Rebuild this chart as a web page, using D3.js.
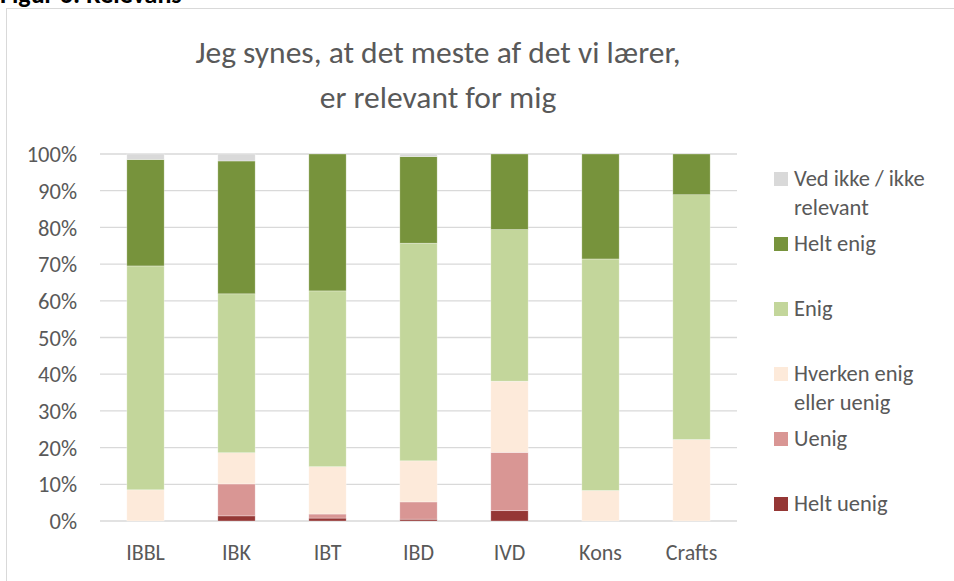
<!DOCTYPE html>
<html>
<head>
<meta charset="utf-8">
<script src="https://cdn.jsdelivr.net/npm/d3@7"></script>
<style>
  body { margin: 0; background: #fff; }
  text { font-family: Carlito, Calibri, Lato, sans-serif; fill: #595959; }
</style>
</head>
<body>
<svg id="chart" width="954" height="581"></svg>
<script>
// categories and series (percent of answers)
const categories = ['IBBL', 'IBK', 'IBT', 'IBD', 'IVD', 'Kons', 'Crafts'];
const seriesNames = ['Helt uenig', 'Uenig', 'Hverken enig eller uenig', 'Enig', 'Helt enig', 'Ved ikke / ikke relevant'];
const heltUenig = [0, 1.4, 0.8, 0.5, 2.8, 0, 0];
const uenig     = [0, 8.7, 1.1, 4.7, 15.9, 0, 0];
const hverken   = [8.5, 8.5, 12.9, 11.2, 19.4, 8.3, 22.2];
const enig      = [61, 43.3, 47.9, 59.3, 41.3, 63.1, 66.7];
const heltEnig  = [29, 36.2, 37.3, 23.6, 20.6, 28.6, 11.1];
const vedIkke   = [1.5, 1.9, 0, 0.7, 0, 0, 0];
const yTicks = [0, 10, 20, 30, 40, 50, 60, 70, 80, 90, 100];

const colors = ['#953735', '#d99694', '#fdeada', '#c3d69b', '#77933c', '#d9d9d9'];
const seriesValues = [heltUenig, uenig, hverken, enig, heltEnig, vedIkke];

const table = categories.map((c, i) => {
  const row = {cat: c};
  seriesNames.forEach((s, j) => row[s] = seriesValues[j][i]);
  return row;
});

const svg = d3.select('#chart');

// outer chart frame and caption (cut by the top edge, as in the source)
svg.append('text')
  .attr('x', 0).attr('y', 3)
  .style('font-weight', 'bold').style('font-size', '26px').style('fill', '#000')
  .text('Figur 6: Relevans');

svg.append('rect')
  .attr('x', 6.5).attr('y', 8.5)
  .attr('width', 960).attr('height', 600)
  .attr('fill', 'none').attr('stroke', '#d9d9d9');

const plotLeft = 100, plotRight = 737, plotTop = 154, plotBottom = 521;

const x = d3.scaleBand()
  .domain(categories)
  .range([plotLeft, plotRight])
  .paddingInner(0.59)
  .paddingOuter(0.295);

const y = d3.scaleLinear()
  .domain([0, 100])
  .range([plotBottom, plotTop]);

// gridlines
svg.append('g')
  .selectAll('line')
  .data(yTicks)
  .enter()
  .append('line')
  .attr('x1', plotLeft).attr('x2', plotRight)
  .attr('y1', d => y(d)).attr('y2', d => y(d))
  .attr('stroke', '#d9d9d9')
  .attr('stroke-width', 1.3);

// y axis labels
svg.append('g')
  .selectAll('text')
  .data(yTicks)
  .enter()
  .append('text')
  .attr('x', 77)
  .attr('y', d => y(d))
  .attr('dy', '0.36em')
  .attr('text-anchor', 'end')
  .style('font-size', '22.5px')
  .text(d => d + '%');

// stacked bars
const stack = d3.stack().keys(seriesNames)(table);

svg.append('g')
  .selectAll('g')
  .data(stack)
  .enter()
  .append('g')
  .attr('fill', (d, i) => colors[i])
  .selectAll('rect')
  .data(d => d)
  .enter()
  .append('rect')
  .attr('x', d => x(d.data.cat))
  .attr('width', x.bandwidth())
  .attr('y', d => y(d[1]))
  .attr('height', d => y(d[0]) - y(d[1]))
  .attr('stroke', 'rgba(255,255,255,0.5)')
  .attr('stroke-width', 0.6);

// x axis labels
svg.append('g')
  .selectAll('text')
  .data(categories)
  .enter()
  .append('text')
  .attr('x', d => x(d) + x.bandwidth() / 2)
  .attr('y', 560)
  .attr('text-anchor', 'middle')
  .style('font-size', '22px')
  .text(d => d);

// title
const title = svg.append('text')
  .attr('x', 438)
  .attr('text-anchor', 'middle')
  .style('font-size', '31.5px');
title.append('tspan').attr('x', 438).attr('y', 63).text('Jeg synes, at det meste af det vi lærer,');
title.append('tspan').attr('x', 438).attr('y', 108).text('er relevant for mig');

// legend, top entry first
const legendLines = [
  ['Ved ikke / ikke', 'relevant'],
  ['Helt enig'],
  ['Enig'],
  ['Hverken enig', 'eller uenig'],
  ['Uenig'],
  ['Helt uenig']
];
const legendColors = colors.slice().reverse();

const legend = svg.append('g')
  .selectAll('g')
  .data(legendLines)
  .enter()
  .append('g')
  .attr('transform', (d, i) => 'translate(774,' + (179 + i * 65) + ')');

legend.append('rect')
  .attr('x', 0).attr('y', -7)
  .attr('width', 14).attr('height', 14)
  .attr('fill', (d, i) => legendColors[i]);

legend.append('text')
  .attr('x', 20)
  .style('font-size', '22.5px')
  .selectAll('tspan')
  .data(d => d)
  .enter()
  .append('tspan')
  .attr('x', 20)
  .attr('y', (d, i) => 7 + i * 28.5)
  .text(d => d);
</script>
</body>
</html>
